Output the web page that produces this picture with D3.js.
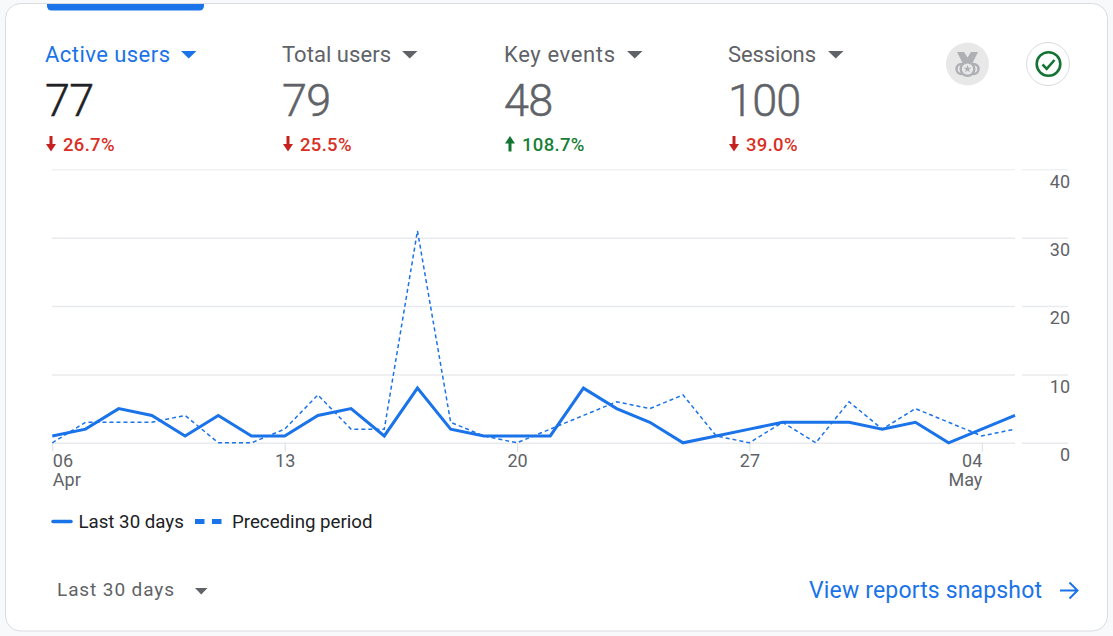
<!DOCTYPE html>
<html>
<head>
<meta charset="utf-8">
<script src="https://cdn.jsdelivr.net/npm/d3@7"></script>
<style>
  html, body { margin: 0; padding: 0; background: #f8f9fa; overflow: hidden; }
  text { font-family: Roboto, sans-serif; }
</style>
</head>
<body>
<script>
const width = 1113
const height = 636

const metricNames = ["Active users", "Total users", "Key events", "Sessions"]
const metricValues = ["77", "79", "48", "100"]
const metricChanges = ["26.7%", "25.5%", "108.7%", "39.0%"]
const metricUp = [false, false, true, false]

const current = [1, 2, 5, 4, 1, 4, 1, 1, 4, 5, 1, 8, 2, 1, 1, 1, 8, 5, 3, 0, 1, 2, 3, 3, 3, 2, 3, 0, 2, 4]
const preceding = [0, 3, 3, 3, 4, 0, 0, 2, 7, 2, 2, 31, 3, 1, 0, 2, 4, 6, 5, 7, 1, 0, 3, 0, 6, 2, 5, 3, 1, 2]

const dayTicks = [0, 7, 14, 21, 28]
const dayLabels = ["06", "13", "20", "27", "04"]
const monthLabels = ["Apr", "", "", "", "May"]
const yTicks = [0, 10, 20, 30, 40]

const seriesNames = ["Last 30 days", "Preceding period"]
const rangeLabel = "Last 30 days"
const linkLabel = "View reports snapshot"

const blue = "#1a73e8"
const grey = "#5f6368"
const gridColor = "#e8eaed"

const metricX = [45, 282, 504, 728]
const metricW = [125, 109, 111, 88]
const caretX = [181, 402, 627, 828]

const x = d3.scaleLinear().domain([0, 29]).range([52.3, 1015])
const y = d3.scaleLinear().domain([0, 40]).range([442.8, 169.3])

const svg = d3.select("body").append("svg")
    .attr("width", width)
    .attr("height", height)
    .style("display", "block")

// card
svg.append("rect")
    .attr("x", 5.5).attr("y", 3.5)
    .attr("width", 1102).attr("height", 627.5)
    .attr("rx", 15)
    .attr("fill", "#fff")
    .attr("stroke", "#dadce0")

// selected tab marker
svg.append("path")
    .attr("d", "M47 4H204V6a4.5 4.5 0 0 1 -4.5 4.5H51.5a4.5 4.5 0 0 1 -4.5 -4.5Z")
    .attr("fill", blue)

const caret = (g, cx, cy, w, h, fill) => g.append("path")
    .attr("d", `M${cx} ${cy}h${w}l${-w / 2} ${h}Z`)
    .attr("fill", fill)

// metric headers
metricNames.forEach((name, i) => {
  const g = svg.append("g")
  const headColor = i == 0 ? blue : grey
  const numColor = i == 0 ? "#202124" : grey
  g.append("text")
      .attr("x", metricX[i]).attr("y", 62)
      .attr("font-size", 22)
      .attr("textLength", metricW[i])
      .attr("fill", headColor)
      .text(name)
  caret(g, caretX[i], 51, 15.5, 7.5, headColor)
  g.append("text")
      .attr("x", metricX[i]).attr("y", 116)
      .attr("font-size", 45)
      .attr("font-weight", 300)
      .attr("letter-spacing", -0.8)
      .attr("fill", numColor)
      .attr("stroke", numColor)
      .attr("stroke-width", 0.5)
      .text(metricValues[i])
  const changeColor = metricUp[i] ? "#137333" : "#c5221f"
  const ax = metricX[i] + 6
  g.append("path")
      .attr("d", metricUp[i]
        ? `M${ax} 136l5 7.5h-3.5v8h-3v-8h-3.5Z`
        : `M${ax} 151.5l5 -7.5h-3.5v-8h-3v8h-3.5Z`)
      .attr("fill", changeColor)
  g.append("text")
      .attr("x", metricX[i] + 18).attr("y", 151)
      .attr("font-size", 18.5)
      .attr("font-weight", 500)
      .attr("letter-spacing", 0.3)
      .attr("fill", metricUp[i] ? "#188038" : "#d93025")
      .text(metricChanges[i])
})

// medal badge
const medal = svg.append("g").attr("transform", "translate(967.5,64)")
medal.append("circle").attr("r", 21.5).attr("fill", "#e8e8e8")
medal.append("path")
    .attr("d", "M-10.5 -12H-3.5L0 -6.5 3.5 -12H10.5L5 -1H-5Z")
    .attr("fill", "#aeb0b3")
medal.selectAll("circle.ring")
    .data([-6, 6])
    .join("circle")
    .attr("class", "ring")
    .attr("cx", d => d).attr("cy", 5)
    .attr("r", 5)
    .attr("fill", "none")
    .attr("stroke", "#aeb0b3")
    .attr("stroke-width", 2.4)
medal.append("circle")
    .attr("cy", 5).attr("r", 6.8)
    .attr("fill", "#e8e8e8")
    .attr("stroke", "#aeb0b3")
    .attr("stroke-width", 2.4)
medal.append("path")
    .attr("d", d3.symbol(d3.symbolStar, 20)())
    .attr("transform", "translate(0,5)")
    .attr("fill", "#aeb0b3")

// status badge
const check = svg.append("g").attr("transform", "translate(1048,64)")
check.append("circle").attr("r", 21.5).attr("fill", "#fff").attr("stroke", "#dadce0")
check.append("circle").attr("cx", 0.5).attr("r", 11.8).attr("fill", "none").attr("stroke", "#137333").attr("stroke-width", 2.6)
check.append("path")
    .attr("d", "M-5.5 0.5L-1.3 4.8 6.5 -4")
    .attr("fill", "none")
    .attr("stroke", "#137333")
    .attr("stroke-width", 2.6)

// y grid, chart part and the short part beside the labels
const grid = svg.append("g").attr("transform", "translate(1015,0)")
    .call(d3.axisLeft(y).tickValues(yTicks).tickSize(963).tickFormat(""))
grid.select(".domain").remove()
grid.selectAll("line").attr("stroke", gridColor).attr("stroke-width", d => d == 40 ? 1 : 1.5)

const yAxis = svg.append("g").attr("transform", "translate(1022,0)")
    .call(d3.axisRight(y).tickValues(yTicks).tickSize(46).tickFormat(d => d))
yAxis.select(".domain").remove()
yAxis.selectAll("line").attr("stroke", gridColor).attr("stroke-width", d => d == 40 ? 1 : 1.5)
yAxis.selectAll("text")
    .attr("x", 48)
    .attr("dy", "0.32em")
    .attr("transform", "translate(0,12)")
    .attr("text-anchor", "end")
    .attr("font-family", "Roboto, sans-serif")
    .attr("font-size", 18)
    .attr("fill", grey)

// x axis
const xAxis = svg.append("g").attr("transform", `translate(0,${y(0)})`)
    .call(d3.axisBottom(x).tickValues(dayTicks).tickSize(9).tickFormat((d, i) => dayLabels[i]))
xAxis.select(".domain").remove()
xAxis.selectAll("line").attr("stroke", "#dadce0")
const anchorFor = i => i == 0 ? "start" : i == dayTicks.length - 1 ? "end" : "middle"
xAxis.selectAll("text")
    .attr("y", 24)
    .attr("dy", 0)
    .attr("text-anchor", (d, i) => anchorFor(i))
    .attr("font-family", "Roboto, sans-serif")
    .attr("font-size", 18)
    .attr("fill", grey)
xAxis.selectAll(".tick").append("text")
    .attr("y", 43)
    .attr("text-anchor", (d, i) => anchorFor(i))
    .attr("font-family", "Roboto, sans-serif")
    .attr("font-size", 18)
    .attr("fill", grey)
    .text((d, i) => monthLabels[i])

// series
const line = d3.line().x((d, i) => x(i)).y(d => y(d))

svg.append("path")
    .attr("d", line(preceding))
    .attr("fill", "none")
    .attr("stroke", blue)
    .attr("stroke-width", 1.5)
    .attr("stroke-dasharray", "4,3")

svg.append("path")
    .attr("d", line(current))
    .attr("fill", "none")
    .attr("stroke", blue)
    .attr("stroke-width", 3)

// legend
svg.append("line")
    .attr("x1", 53).attr("x2", 71).attr("y1", 521.5).attr("y2", 521.5)
    .attr("stroke", blue).attr("stroke-width", 3.5).attr("stroke-linecap", "round")
svg.append("text")
    .attr("x", 78.5).attr("y", 527.5)
    .attr("font-size", 18.7).attr("fill", "#202124")
    .text(seriesNames[0])
svg.append("line")
    .attr("x1", 195).attr("x2", 222).attr("y1", 521.5).attr("y2", 521.5)
    .attr("stroke", blue).attr("stroke-width", 5).attr("stroke-dasharray", "9.5,7.5")
svg.append("text")
    .attr("x", 232).attr("y", 527.5)
    .attr("font-size", 18.7).attr("fill", "#202124")
    .text(seriesNames[1])

// footer
svg.append("text")
    .attr("x", 57).attr("y", 596)
    .attr("font-size", 19)
    .attr("letter-spacing", 0.9)
    .attr("fill", grey)
    .text(rangeLabel)
caret(svg, 195, 588, 12.5, 6.5, grey)

svg.append("text")
    .attr("x", 809).attr("y", 598)
    .attr("font-size", 23)
    .attr("textLength", 233)
    .attr("fill", blue)
    .text(linkLabel)
svg.append("path")
    .attr("d", "M1060 590.5H1077M1069.5 582.5L1077.5 590.5 1069.5 598.5")
    .attr("fill", "none")
    .attr("stroke", blue)
    .attr("stroke-width", 2)
</script>
</body>
</html>
